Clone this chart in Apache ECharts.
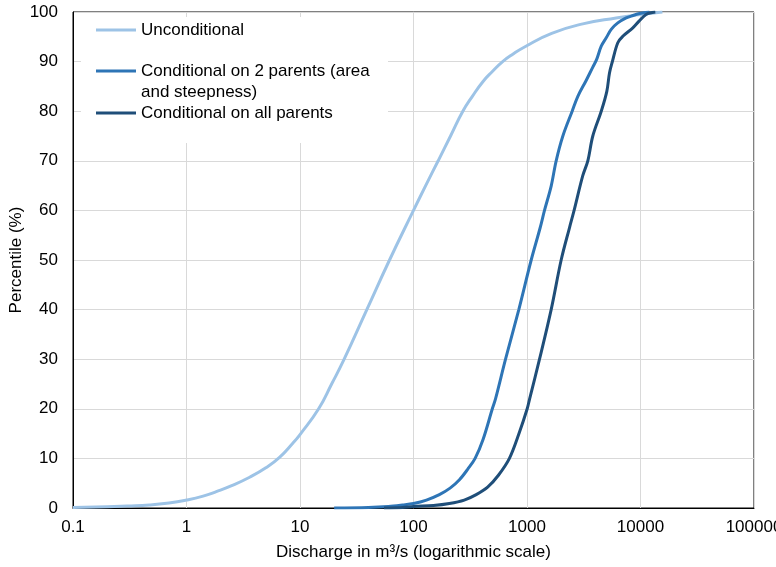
<!DOCTYPE html>
<html>
<head>
<meta charset="utf-8">
<title>Discharge percentiles</title>
<script src="https://cdn.jsdelivr.net/npm/echarts@6/dist/echarts.min.js"></script>
<style>
  html, body { margin: 0; padding: 0; background: #fff; }
  #chart { width: 776px; height: 567px; }
</style>
</head>
<body>
<div id="chart"></div>
<script>
// Cumulative distributions of discharge: [discharge m³/s, percentile %]
const unconditional = [
  [0.1, 0.1], [0.2, 0.25], [0.3, 0.4], [0.47, 0.6], [0.7, 1.0], [1, 1.6],
  [1.4, 2.4], [1.83, 3.3], [2.5, 4.5], [3.6, 6.2], [5, 8.1], [6.6, 10.2],
  [8.6, 13], [10, 14.8], [14.6, 20], [19, 25], [24.5, 30], [38.8, 40],
  [61.5, 50], [100, 60], [128, 65], [165, 70], [212, 75], [272, 80],
  [330, 83], [410, 86], [495, 88], [610, 90], [750, 91.5], [960, 93],
  [1650, 95.7], [3100, 97.6], [6100, 98.8], [10000, 99.5], [15600, 100]
];

const conditionalTwo = [
  [20, 0], [40, 0.1], [60, 0.3], [80, 0.6], [100, 0.9], [130, 1.6],
  [169, 2.7], [210, 4.0], [254, 5.7], [300, 7.8], [349, 10], [410, 13.8],
  [495, 20], [528, 22], [647, 30], [847, 40], [1089, 50], [1306, 56.5],
  [1426, 60], [1633, 64.9], [1807, 70], [2070, 75], [2500, 80], [2805, 83],
  [3320, 86.2], [3800, 88.9], [4100, 90.4], [4510, 93.1], [4990, 94.8],
  [5520, 96.5], [6310, 97.8], [7480, 98.8], [8600, 99.3], [9800, 99.7],
  [12000, 100]
];

const conditionalAll = [
  [55, 0], [80, 0.1], [100, 0.3], [150, 0.5], [207, 0.9], [280, 1.6],
  [357, 2.7], [450, 4.2], [560, 6.6], [700, 10], [850, 15], [1004, 20],
  [1052, 21.9], [1289, 30], [1633, 40], [2000, 50], [2367, 56.5], [2600, 60],
  [3100, 67], [3435, 70], [3800, 75], [4510, 80], [5050, 84], [5330, 87.7],
  [5650, 90], [6310, 93.8], [6980, 95.1], [8560, 96.8], [9660, 98.1],
  [11200, 99.5], [13500, 100]
];

const seriesNames = [
  'Unconditional',
  'Conditional on 2 parents (area and steepness)',
  'Conditional on all parents'
];
const seriesColors = ['#9DC3E6', '#2E75B6', '#1F4E79'];
const xTickLabels = ['0.1', '1', '10', '100', '1000', '10000', '100000'];
const yTicks = [0, 10, 20, 30, 40, 50, 60, 70, 80, 90, 100];

const FONT = "'Liberation Sans', Arial, Helvetica, sans-serif";
const chart = echarts.init(document.getElementById('chart'), null, { renderer: 'canvas' });

function legendBlock(name, top, formatter) {
  return {
    data: [name],
    orient: 'vertical',
    left: 96,
    top: top,
    padding: 0,
    icon: 'rect',
    itemWidth: 40,
    itemHeight: 3,
    selectedMode: false,
    formatter: formatter,
    textStyle: { fontFamily: FONT, fontSize: 17, color: '#000', lineHeight: 21 }
  };
}

chart.setOption({
  animation: false,
  backgroundColor: '#fff',
  color: seriesColors,
  grid: {
    left: 73, right: 22, top: 12, bottom: 59,
    containLabel: false,
    outerBoundsMode: 'none',
    show: true, borderColor: '#000', borderWidth: 1, backgroundColor: 'transparent'
  },
  // white panel behind the legend entries
  graphic: [{
    type: 'rect',
    z: 1,
    shape: { x: 81, y: 17, width: 307, height: 126 },
    style: { fill: '#fff' },
    silent: true
  }],
  legend: [
    legendBlock(seriesNames[0], 19.5),
    legendBlock(seriesNames[1], 39.5, () => '\nConditional on 2 parents (area\nand steepness)'),
    legendBlock(seriesNames[2], 102.5)
  ],
  xAxis: {
    type: 'log',
    logBase: 10,
    min: 0.1,
    max: 100000,
    name: 'Discharge in m³/s (logarithmic scale)',
    nameLocation: 'middle',
    nameGap: 36,
    nameMoveOverlap: false,
    nameTextStyle: { fontFamily: FONT, fontSize: 17, color: '#000' },
    axisLine: { show: true, lineStyle: { color: '#000', width: 1 } },
    axisTick: { show: false },
    minorTick: { show: false },
    axisLabel: {
      margin: 11,
      fontFamily: FONT, fontSize: 17, color: '#000',
      formatter: v => xTickLabels[Math.round(Math.log10(v)) + 1]
    },
    splitLine: { show: true, lineStyle: { color: '#D9D9D9', width: 1 } }
  },
  yAxis: {
    type: 'value',
    min: yTicks[0],
    max: yTicks[yTicks.length - 1],
    interval: 10,
    name: 'Percentile (%)',
    nameLocation: 'middle',
    nameGap: 48,
    nameMoveOverlap: false,
    nameTextStyle: { fontFamily: FONT, fontSize: 17, color: '#000' },
    axisLine: { show: true, lineStyle: { color: '#000', width: 1 } },
    axisTick: { show: false },
    axisLabel: { margin: 15, fontFamily: FONT, fontSize: 17, color: '#000' },
    splitLine: { show: true, lineStyle: { color: '#D9D9D9', width: 1 } }
  },
  series: [
    {
      name: seriesNames[0], type: 'line', data: unconditional,
      symbol: 'none', smooth: 0.5, lineStyle: { width: 3, color: seriesColors[0] }
    },
    {
      name: seriesNames[1], type: 'line', data: conditionalTwo,
      symbol: 'none', smooth: 0.35, lineStyle: { width: 3, color: seriesColors[1] }
    },
    {
      name: seriesNames[2], type: 'line', data: conditionalAll,
      symbol: 'none', smooth: 0.35, lineStyle: { width: 3, color: seriesColors[2] }
    }
  ]
});
</script>
</body>
</html>
